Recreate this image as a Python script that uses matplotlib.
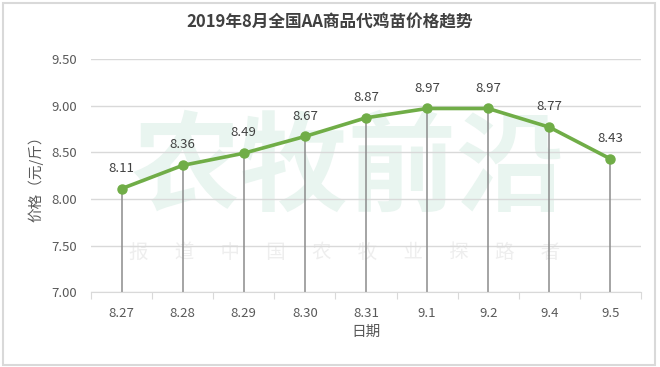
import matplotlib.pyplot as plt
from matplotlib.patches import Rectangle

plt.rcParams['font.family'] = ['Noto Sans CJK SC', 'DejaVu Sans']

# data
dates = ['8.27', '8.28', '8.29', '8.30', '8.31', '9.1', '9.2', '9.4', '9.5']
prices = [8.11, 8.36, 8.49, 8.67, 8.87, 8.97, 8.97, 8.77, 8.43]
yticks = [7.00, 7.50, 8.00, 8.50, 9.00, 9.50]

green = '#70ad47'
text_c = '#595959'

fig = plt.figure(figsize=(6.6, 3.67), dpi=100)
ax = fig.add_axes([0.138, 0.204, 0.833, 0.635])

x = list(range(len(dates)))

# watermark, behind the grid
ax.text(0.528, 0.535, '农牧前沿', fontsize=78, fontweight='bold', color='#e9f5f0',
        ha='center', va='center', transform=fig.transFigure, zorder=0.1)
ax.text(0.522, 0.313, '      '.join('报道中国农牧业探路者'), fontsize=14,
        color='#eeeeee', ha='center', va='center', transform=fig.transFigure,
        zorder=0.1)

ax.set_facecolor('none')
ax.set_ylim(7.0, 9.5)
ax.set_xlim(-0.5, len(dates) - 0.5)
ax.set_yticks(yticks)
ax.set_yticklabels([f'{v:.2f}' for v in yticks])
ax.grid(axis='y', color='#d9d9d9', linewidth=1)
ax.set_axisbelow(True)

# drop lines
ax.vlines(x, 7.0, prices, color='#8c8c8c', linewidth=1.1, zorder=2)
ax.plot(x, prices, color=green, linewidth=2.6, marker='o', markersize=6.5,
        zorder=3)
for xi, p in zip(x, prices):
    ax.annotate(f'{p:.2f}', (xi, p), xytext=(0, 10), textcoords='offset points',
                ha='center', va='bottom', fontsize=9.5, color='#404040')

ax.set_xticks([i + 0.5 for i in range(-1, len(dates))], minor=False)
ax.set_xticklabels([])
ax.tick_params(axis='x', length=5, color='#d9d9d9', direction='out')
ax.set_xticks(x, minor=True)
ax.set_xticklabels(dates, minor=True)
ax.tick_params(axis='x', which='minor', length=0, pad=11, labelsize=9.5,
               labelcolor=text_c)
ax.tick_params(axis='y', length=0, pad=10, labelsize=9.5, labelcolor=text_c)

for s in ['top', 'right', 'left']:
    ax.spines[s].set_visible(False)
ax.spines['bottom'].set_color('#d9d9d9')

ax.set_xlabel('日期', fontsize=10.5, color=text_c, labelpad=3)
ax.set_ylabel('价格（元/斤）', fontsize=10.5, color=text_c, labelpad=6)

fig.text(0.5, 0.94, '2019年8月全国AA商品代鸡苗价格趋势', ha='center', va='center',
         fontsize=12, fontweight='bold', color='#404040')

fig.patches.append(Rectangle((0.004, 0.006), 0.988, 0.986, transform=fig.transFigure,
                             fill=False, edgecolor='#d9d9d9', linewidth=1.5))

fig.savefig('out.png', dpi=100)
